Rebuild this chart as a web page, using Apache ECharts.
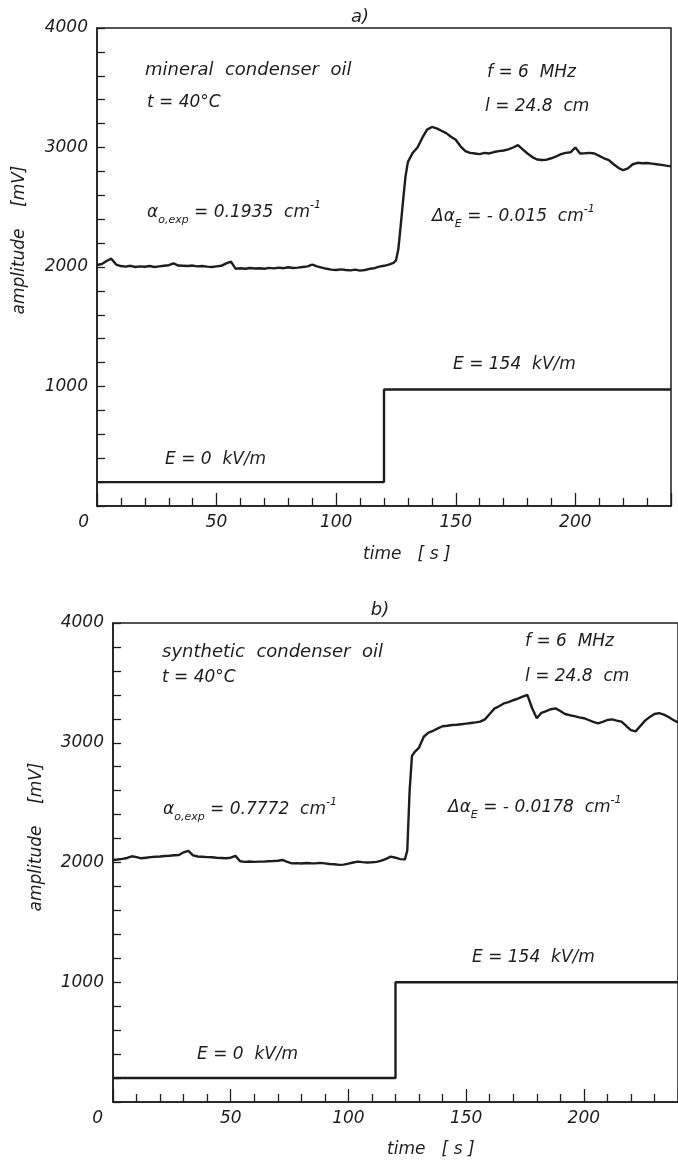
<!DOCTYPE html>
<html><head><meta charset="utf-8">
<script src="https://cdn.jsdelivr.net/npm/echarts@6/dist/echarts.min.js"></script>
<style>html,body{margin:0;padding:0;background:#fff}#c{width:678px;height:1161px}</style>
</head><body><div id="c"></div>
<script>
// ---- data ----
const timeA = [0,2,4,6,8,10,12,14,16,18,20,22,24,26,28,30,32,34,36,38,40,42,44,46,48,50,52,54,56,58,60,62,64,66,68,70,72,74,76,78,80,82,84,86,88,90,92,94,96,98,100,102,104,106,108,110,112,114,116,118,120,122,124,125,126,127,128,129,130,132,134,136,138,140,142,144,146,148,150,152,154,156,158,160,162,164,166,168,170,172,174,176,178,180,182,184,186,188,190,192,194,196,198,200,202,204,206,208,210,212,214,216,218,220,222,224,226,228,230,232,234,236,238,240];
const amplitudeA = [2017,2025,2050,2070,2020,2008,2003,2010,2000,2005,2002,2008,2000,2005,2010,2015,2030,2012,2010,2008,2012,2005,2008,2003,2000,2005,2010,2030,2045,1985,1990,1985,1992,1988,1990,1985,1993,1988,1995,1990,1998,1992,1995,2000,2005,2020,2005,1995,1985,1978,1975,1980,1975,1972,1978,1970,1975,1985,1990,2003,2010,2020,2035,2055,2150,2350,2560,2760,2880,2955,3000,3080,3150,3172,3160,3140,3120,3090,3065,3010,2970,2955,2950,2945,2955,2950,2962,2970,2975,2985,3000,3020,2985,2950,2920,2900,2895,2898,2910,2925,2945,2955,2960,3000,2950,2952,2955,2950,2930,2910,2895,2860,2830,2810,2825,2860,2872,2868,2870,2865,2860,2855,2848,2842];
const timeB = [0,2,4,6,8,10,12,14,16,18,20,22,24,26,28,30,32,34,36,38,40,42,44,46,48,50,52,54,56,58,60,62,64,66,68,70,72,74,76,78,80,82,84,86,88,90,92,94,96,98,100,102,104,106,108,110,112,114,116,118,120,122,124,125,126,127,128,130,132,134,136,138,140,142,144,146,148,150,152,154,156,158,160,162,164,166,168,170,172,174,176,178,180,182,184,186,188,190,192,194,196,198,200,202,204,206,208,210,212,214,216,218,220,222,224,226,228,230,232,234,236,238,240];
const amplitudeB = [2021,2025,2030,2038,2052,2045,2035,2040,2045,2048,2050,2054,2056,2060,2063,2085,2098,2060,2050,2048,2045,2044,2040,2038,2036,2040,2055,2010,2005,2008,2005,2007,2007,2010,2012,2015,2021,2005,1993,1995,1992,1996,1994,1993,1997,1993,1988,1985,1980,1982,1990,2000,2007,2003,2000,2002,2005,2015,2030,2049,2040,2028,2026,2100,2600,2890,2920,2960,3050,3085,3100,3120,3138,3142,3148,3150,3155,3160,3165,3170,3176,3195,3240,3285,3305,3328,3340,3355,3368,3385,3400,3290,3205,3250,3265,3280,3287,3265,3240,3230,3222,3212,3205,3190,3175,3162,3175,3190,3195,3185,3176,3140,3105,3095,3140,3185,3215,3240,3248,3235,3215,3190,3170];
const stepTime = [0,120,240];
const fieldA = [200,975,975];
const fieldB = [200,1000,1000];
const xTicks = {min:0, max:240, interval:50};
const yTicks = {min:0, max:4000, interval:1000};

// ---- chart ----
const INK = '#1d1d1d';
const FF = '"DejaVu Sans", "Liberation Sans", sans-serif';
const zip = (xs, ys) => xs.map((x, i) => [x, ys[i]]);

function xAxis(gi, zeroPad) {
  return {type:'value', gridIndex:gi, min:xTicks.min, max:xTicks.max, interval:xTicks.interval,
    axisLine:{show:true, onZero:false, lineStyle:{color:INK, width:1.5}},
    axisTick:{show:true, inside:true, length:13, lineStyle:{color:INK, width:1.3}},
    minorTick:{show:true, splitNumber:5, length:8, lineStyle:{color:INK, width:1.3}},
    splitLine:{show:false}, minorSplitLine:{show:false},
    axisLabel:{show:true, showMaxLabel:false, alignMinLabel:'right', margin:8, color:INK, fontSize:17, fontStyle:'italic', fontFamily:FF,
      formatter: v => v === 0 ? '{z|0}' : String(v),
      rich:{z:{color:INK, fontSize:17, fontStyle:'italic', fontFamily:FF, padding:[0, zeroPad, 0, 0]}}}};
}
function yAxis(gi) {
  return {type:'value', gridIndex:gi, min:yTicks.min, max:yTicks.max, interval:yTicks.interval,
    axisLine:{show:true, onZero:false, lineStyle:{color:INK, width:1.5}},
    axisTick:{show:true, inside:true, length:8, lineStyle:{color:INK, width:1.3}},
    minorTick:{show:true, splitNumber:5, length:8, lineStyle:{color:INK, width:1.3}},
    splitLine:{show:false}, minorSplitLine:{show:false},
    axisLabel:{show:true, margin:9, color:INK, fontSize:17, fontStyle:'italic', fontFamily:FF,
      formatter: v => v === 0 ? '' : String(v)}};
}
function line(gi, data, step) {
  const s = {type:'line', xAxisIndex:gi, yAxisIndex:gi, data, showSymbol:false, symbol:'none',
    lineStyle:{color:INK, width:2.4}, silent:true, animation:false};
  if (step) s.step = 'end';
  return s;
}
function txt(x, y, text, extra) {
  const style = Object.assign({text, fill:INK, fontFamily:FF, fontStyle:'italic', fontSize:17, align:'left', verticalAlign:'middle'}, extra || {});
  return {type:'text', x, y, silent:true, style};
}
const richBase = {fill:INK, fontFamily:FF, fontStyle:'italic'};
const rich = {
  sub: Object.assign({fontSize:11, lineHeight:12, verticalAlign:'bottom'}, richBase),
  sup: Object.assign({fontSize:11, lineHeight:12, verticalAlign:'top'}, richBase)
};
function richTxt(x, y, text) { return txt(x, y, text, {rich, lineHeight:26}); }
function vName(x, y) { const t = txt(x, y, 'amplitude    [mV]', {align:'center'}); t.rotation = Math.PI / 2; return t; }

const chart = echarts.init(document.getElementById('c'), null, {renderer:'canvas'});
chart.setOption({
  backgroundColor:'#ffffff',
  animation:false,
  grid:[
    {left:97, right:7, top:28, bottom:655, show:true, borderColor:INK, borderWidth:1.5, backgroundColor:'transparent'},
    {left:113, right:-11, top:623, bottom:59, show:true, borderColor:INK, borderWidth:1.5, backgroundColor:'transparent'}
  ],
  xAxis:[xAxis(0, 8), xAxis(1, 10)],
  yAxis:[yAxis(0), yAxis(1)],
  series:[
    line(0, zip(timeA, amplitudeA)),
    line(0, zip(stepTime, fieldA), true),
    line(1, zip(timeB, amplitudeB)),
    line(1, zip(stepTime, fieldB), true)
  ],
  graphic:[
    txt(360, 17, 'a)', {align:'center', fontSize:18}),
    txt(145, 70, 'mineral  condenser  oil', {fontSize:18}),
    txt(147, 103, 't = 40°C'),
    richTxt(147, 213, 'α{sub|o,exp} = 0.1935  cm{sup|-1}'),
    txt(487, 73, 'f = 6  MHz'),
    txt(485, 107, 'l = 24.8  cm'),
    richTxt(432, 217, 'Δα{sub|E} = - 0.015  cm{sup|-1}'),
    txt(165, 460, 'E = 0  kV/m'),
    txt(453, 365, 'E = 154  kV/m'),
    vName(20, 240),
    txt(363, 555, 'time   [ s ]'),

    txt(380, 610, 'b)', {align:'center', fontSize:18}),
    txt(162, 652, 'synthetic  condenser  oil', {fontSize:18}),
    txt(162, 678, 't = 40°C'),
    richTxt(163, 810, 'α{sub|o,exp} = 0.7772  cm{sup|-1}'),
    txt(525, 642, 'f = 6  MHz'),
    txt(525, 677, 'l = 24.8  cm'),
    richTxt(448, 808, 'Δα{sub|E} = - 0.0178  cm{sup|-1}'),
    txt(197, 1055, 'E = 0  kV/m'),
    txt(472, 958, 'E = 154  kV/m'),
    vName(37, 837),
    txt(387, 1150, 'time   [ s ]')
  ]
});
</script>
</body></html>
